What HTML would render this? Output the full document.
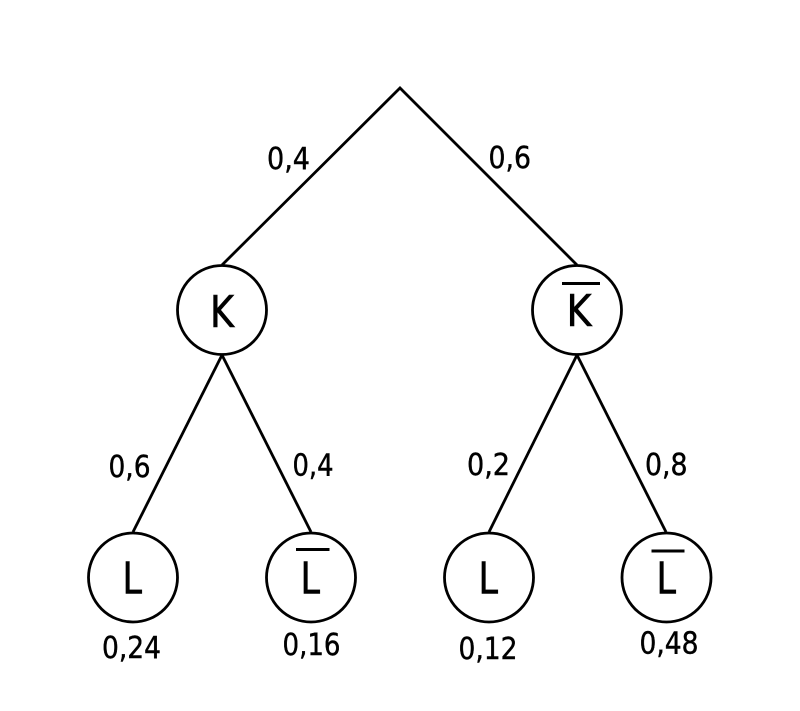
<!DOCTYPE html>
<html>
<head>
<meta charset="utf-8">
<style>
html,body{margin:0;padding:0;background:#fff;}
svg{display:block;}
text{font-family:"DejaVu Sans Condensed","DejaVu Sans","Liberation Sans",sans-serif;fill:#000;}
</style>
</head>
<body>
<svg width="800" height="711" viewBox="0 0 800 711" xmlns="http://www.w3.org/2000/svg">
<rect width="800" height="711" fill="#fff"/>
<g stroke="#000" stroke-width="2.8" fill="none" stroke-linecap="butt">
  <polyline points="222,265 400,88 577,265"/>
  <line x1="222" y1="355" x2="133" y2="532"/>
  <line x1="222" y1="355" x2="311" y2="532"/>
  <line x1="577" y1="355" x2="489" y2="532"/>
  <line x1="577" y1="355" x2="666" y2="532"/>
  <circle cx="222" cy="310" r="44.5"/>
  <circle cx="577" cy="310" r="44.5"/>
  <circle cx="133" cy="577.5" r="44.5"/>
  <circle cx="311" cy="577.5" r="44.5"/>
  <circle cx="489" cy="577.5" r="44.5"/>
  <circle cx="666.5" cy="577.5" r="44.5"/>
  <line x1="562" y1="283.5" x2="600" y2="283.5" stroke-width="3"/>
  <line x1="296" y1="549.5" x2="329.5" y2="549.5" stroke-width="3"/>
  <line x1="651.5" y1="551" x2="684.5" y2="551" stroke-width="3"/>
</g>
<g font-size="44" stroke="#000" stroke-width="0.6">
  <text x="210" y="327" textLength="24" lengthAdjust="spacingAndGlyphs">K</text>
  <text x="566.5" y="326" textLength="25" lengthAdjust="spacingAndGlyphs">K</text>
  <text x="122.5" y="593.5" textLength="19.5" lengthAdjust="spacingAndGlyphs">L</text>
  <text x="300.5" y="593.5" textLength="19.5" lengthAdjust="spacingAndGlyphs">L</text>
  <text x="478.5" y="593.5" textLength="19.5" lengthAdjust="spacingAndGlyphs">L</text>
  <text x="656.5" y="593.5" textLength="19.5" lengthAdjust="spacingAndGlyphs">L</text>
</g>
<g font-size="30.5" stroke="#000" stroke-width="0.4">
  <text x="267" y="169" textLength="43" lengthAdjust="spacingAndGlyphs">0,4</text>
  <text x="488.5" y="168" textLength="42.5" lengthAdjust="spacingAndGlyphs">0,6</text>
  <text x="108.5" y="477" textLength="42" lengthAdjust="spacingAndGlyphs">0,6</text>
  <text x="292.5" y="475.5" textLength="41" lengthAdjust="spacingAndGlyphs">0,4</text>
  <text x="467" y="475" textLength="43" lengthAdjust="spacingAndGlyphs">0,2</text>
  <text x="645" y="475" textLength="42.5" lengthAdjust="spacingAndGlyphs">0,8</text>
  <text x="102" y="658" textLength="59" lengthAdjust="spacingAndGlyphs">0,24</text>
  <text x="282.5" y="655" textLength="58" lengthAdjust="spacingAndGlyphs">0,16</text>
  <text x="458.5" y="659" textLength="59" lengthAdjust="spacingAndGlyphs">0,12</text>
  <text x="639.5" y="653.5" textLength="59" lengthAdjust="spacingAndGlyphs">0,48</text>
</g>
</svg>
</body>
</html>
